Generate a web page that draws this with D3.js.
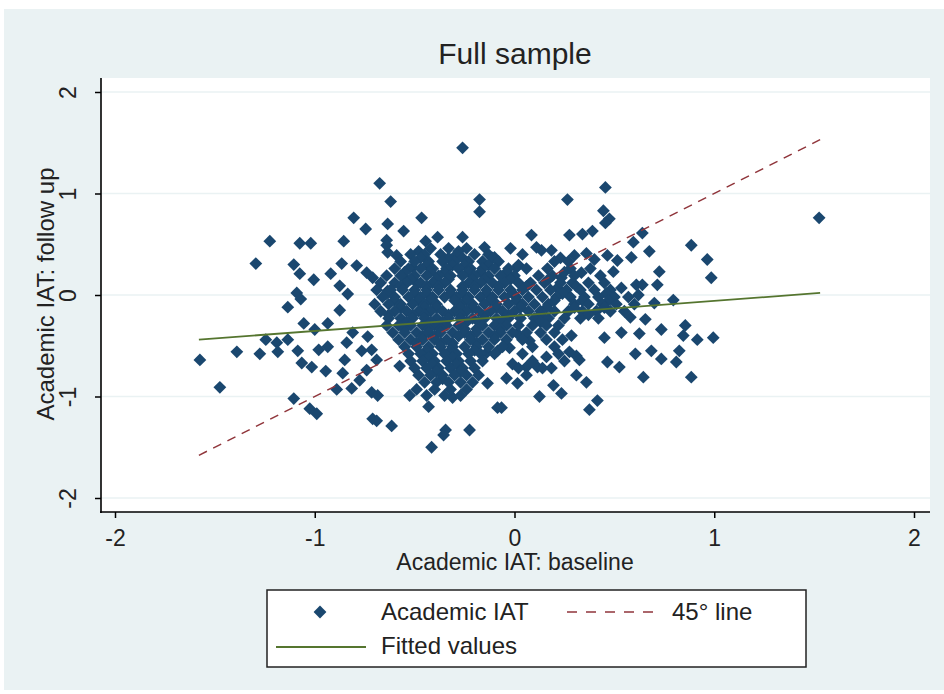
<!DOCTYPE html>
<html>
<head>
<meta charset="utf-8">
<script src="https://cdn.jsdelivr.net/npm/d3@7"></script>
<style>
body{margin:0;background:#fff}
text{font-family:"Liberation Sans",Arial,sans-serif;fill:#222}
</style>
</head>
<body>
<svg id="chart" width="944" height="694"></svg>
<script>
// scattered points around the cloud, [baseline, follow up]
var outerPoints = [
 [-0.26,1.45],[-0.675,1.10],[-0.62,0.92],[-0.175,0.94],[-0.175,0.82],[-0.805,0.76],[-0.465,0.76],
 [-0.635,0.70],[-0.745,0.65],[-0.555,0.63],[-1.225,0.53],[-1.075,0.51],[-1.02,0.51],[-0.855,0.53],
 [-0.64,0.54],[-0.445,0.53],[-0.385,0.57],[-0.26,0.57],[-1.295,0.31],[-1.105,0.30],[-1.075,0.21],
 [-1.005,0.15],[-0.92,0.21],[-0.865,0.31],[-0.79,0.29],[-0.635,0.42],[-0.59,0.39],[-0.64,0.49],
 [-0.74,0.22],[-0.71,0.17],[-1.09,0.02],[-1.07,-0.04],[-1.135,-0.12],[-0.875,0.09],[-0.835,0.01],
 [-0.875,-0.15],[-0.55,0.17],[-0.485,0.11],[-0.51,0.27],[-0.635,0.04],
 [-1.575,-0.64],[-1.475,-0.91],[-1.39,-0.56],[-1.275,-0.58],[-1.245,-0.44],[-1.19,-0.47],[-1.185,-0.56],
 [-1.135,-0.44],[-1.055,-0.28],[-1.0,-0.34],[-0.935,-0.28],[-1.085,-0.55],[-1.065,-0.67],[-1.015,-0.71],
 [-0.945,-0.75],[-0.98,-0.54],[-0.935,-0.51],[-0.84,-0.47],[-0.85,-0.64],[-0.86,-0.77],[-0.89,-0.93],
 [-0.815,-0.92],[-0.775,-0.84],[-0.74,-0.74],[-0.765,-0.55],[-0.81,-0.37],[-0.735,-0.41],[-0.715,-0.54],
 [-0.69,-0.64],[-0.575,-0.70],[-0.715,-0.96],[-0.685,-0.99],[-1.105,-1.02],[-1.025,-1.12],[-0.99,-1.17],
 [-0.71,-1.22],[-0.69,-1.24],[-0.615,-1.29],[-0.415,-1.50],[-0.345,-1.33],[-0.355,-1.38],[-0.225,-1.33],
 [-0.43,-1.10],[-0.525,-0.99],[-0.31,-1.01],[-0.135,-0.87],[-0.085,-1.11],
 [1.525,0.76],[0.455,1.06],[0.265,0.94],[0.445,0.83],[0.475,0.75],[0.455,0.71],[0.885,0.49],
 [0.965,0.35],[0.985,0.17],[0.725,0.23],[0.715,0.10],[0.61,0.10],[0.64,0.10],[0.795,-0.05],
 [0.675,0.43],[0.585,0.37],[0.595,0.52],[0.64,0.61],[0.535,0.07],[0.515,0.34],[0.495,0.23],
 [0.465,0.39],[0.39,0.63],[0.34,0.60],[0.275,0.59],[0.085,0.59],[-0.02,0.46],[-0.15,0.47],
 [0.135,0.44],[0.185,0.44],[0.11,0.47],[0.165,0.26],[0.01,0.27],[0.30,0.39],[0.36,0.41],
 [0.40,0.35],[0.335,0.22],[0.235,0.17],[0.215,0.07],[0.075,0.11],[-0.06,0.17],[-0.10,0.37],
 [0.995,-0.42],[0.915,-0.44],[0.855,-0.30],[0.845,-0.40],[0.825,-0.55],[0.81,-0.66],[0.885,-0.81],
 [0.735,-0.34],[0.735,-0.63],[0.685,-0.55],[0.655,-0.24],[0.625,-0.38],[0.58,-0.22],[0.605,-0.58],
 [0.535,-0.37],[0.645,-0.81],[0.525,-0.71],[0.465,-0.66],[0.45,-0.42],[0.415,-1.04],[0.375,-1.13],
 [0.36,-0.86],[0.31,-0.79],[0.31,-0.60],[0.275,-0.56],[0.325,-0.64],[0.235,-0.97],[0.195,-0.89],
 [0.125,-1.00],[0.015,-0.87],[-0.065,-1.11],[-0.04,-0.82],[-0.01,-0.68],[0.06,-0.71],[0.115,-0.71],
 [0.16,-0.61],[0.185,-0.72],[-0.085,-0.55],[-0.025,-0.52],[0.015,-0.38],[0.075,-0.45],[0.285,-0.40],
 [-0.14,-0.57],[0.62,0.00],[0.70,-0.08]
];

// dense core, read row by row: [follow up, [baseline values]]
var coreRows = [
 [0.46, [-0.42,-0.33,-0.24]],
 [0.43, [-0.48,-0.28]],
 [0.40, [-0.52,-0.45,-0.37,-0.29,-0.20,-0.13,0.04]],
 [0.365,[-0.47,-0.33,-0.26,-0.11,0.23]],
 [0.33, [-0.57,-0.50,-0.43,-0.36,-0.30,-0.23,-0.16,-0.08,0.20,0.27]],
 [0.295,[-0.44,-0.31,-0.25,-0.13,0.02]],
 [0.26, [-0.60,-0.53,-0.47,-0.41,-0.34,-0.28,-0.22,-0.16,-0.10,-0.03,0.06,0.28,0.38]],
 [0.225,[-0.55,-0.42,-0.35,-0.23,-0.17,-0.04,0.25]],
 [0.19, [-0.64,-0.57,-0.50,-0.44,-0.38,-0.32,-0.26,-0.20,-0.13,-0.07,0.00,0.12,0.19,0.30,0.43]],
 [0.155,[-0.52,-0.39,-0.33,-0.21,-0.15,-0.02,0.17]],
 [0.12, [-0.67,-0.60,-0.54,-0.47,-0.41,-0.35,-0.23,-0.17,-0.11,-0.05,0.02,0.08,0.15,0.23,0.29,0.37,0.45]],
 [0.085,[-0.57,-0.44,-0.38,-0.26,-0.20,-0.08,0.06,0.31]],
 [0.05, [-0.69,-0.62,-0.56,-0.50,-0.44,-0.38,-0.32,-0.26,-0.20,-0.14,-0.08,-0.02,0.04,0.11,0.18,0.26,0.33,0.40,0.48]],
 [0.015,[-0.64,-0.50,-0.44,-0.32,-0.26,-0.14,-0.01,0.24,0.46]],
 [-0.02,[-0.66,-0.60,-0.53,-0.47,-0.41,-0.35,-0.29,-0.23,-0.17,-0.11,-0.05,0.01,0.07,0.14,0.21,0.28,0.35,0.42,0.50,0.57]],
 [-0.055,[-0.60,-0.48,-0.42,-0.30,-0.24,-0.12,0.01,0.20,0.34,0.47]],
 [-0.09,[-0.70,-0.63,-0.57,-0.51,-0.45,-0.39,-0.27,-0.21,-0.15,-0.09,-0.03,0.04,0.10,0.17,0.30,0.37,0.44,0.51,0.60]],
 [-0.125,[-0.57,-0.45,-0.39,-0.27,-0.21,-0.09,0.03,0.16,0.30,0.45]],
 [-0.16,[-0.67,-0.60,-0.54,-0.48,-0.42,-0.36,-0.30,-0.24,-0.18,-0.12,-0.06,0.00,0.07,0.13,0.20,0.27,0.34,0.41,0.48,0.55]],
 [-0.195,[-0.63,-0.51,-0.45,-0.33,-0.27,-0.15,-0.03,0.13,0.37]],
 [-0.23,[-0.63,-0.57,-0.51,-0.45,-0.39,-0.33,-0.27,-0.21,-0.15,-0.09,-0.03,0.03,0.10,0.17,0.25,0.33,0.42]],
 [-0.265,[-0.54,-0.42,-0.36,-0.24,-0.18,-0.06,0.13]],
 [-0.30,[-0.64,-0.58,-0.52,-0.46,-0.40,-0.34,-0.28,-0.16,-0.10,-0.04,0.02,0.09,0.16,0.22]],
 [-0.335,[-0.55,-0.43,-0.37,-0.25,-0.19,-0.07]],
 [-0.37,[-0.61,-0.55,-0.49,-0.43,-0.37,-0.31,-0.25,-0.19,-0.13,-0.07,-0.01,0.06,0.13,0.20]],
 [-0.405,[-0.46,-0.40,-0.28,-0.22,-0.10]],
 [-0.44,[-0.58,-0.52,-0.46,-0.40,-0.34,-0.22,-0.16,-0.10,-0.04,0.04,0.16,0.24]],
 [-0.475,[-0.49,-0.37,-0.31,-0.19]],
 [-0.51,[-0.55,-0.49,-0.43,-0.37,-0.31,-0.25,-0.19,-0.13,-0.06,0.09,0.20]],
 [-0.545,[-0.44,-0.32,-0.20]],
 [-0.58,[-0.53,-0.47,-0.41,-0.35,-0.29,-0.23,-0.17,-0.10,0.04,0.22]],
 [-0.615,[-0.43,-0.31]],
 [-0.65,[-0.52,-0.46,-0.40,-0.34,-0.28,-0.22,-0.16,0.09,0.25]],
 [-0.685,[-0.41,-0.29]],
 [-0.72,[-0.50,-0.44,-0.38,-0.32,-0.26,-0.20,0.02,0.14]],
 [-0.755,[-0.39,-0.27]],
 [-0.79,[-0.48,-0.42,-0.36,-0.30,-0.24,-0.18,0.06]],
 [-0.825,[-0.36]],
 [-0.86,[-0.45,-0.39,-0.33,-0.27,-0.21]],
 [-0.93,[-0.49,-0.40,-0.32,-0.24]],
 [-0.99,[-0.44,-0.35,-0.27]]
];

var tickVals = [-2,-1,0,1,2];
var lineX = [-1.58, 1.53];   // 45 degree line ends
var lineY = [-1.58, 1.53];
var fitY  = [-0.44, 0.02];   // fitted values at the same ends

var points = outerPoints.slice();
coreRows.forEach(function(r){
  r[1].forEach(function(v){ points.push([v, r[0]]); });
});

var navy = "#1a476f", maroon = "#90353b", green = "#55752f", bg = "#eaf2f3";
var svg = d3.select("#chart");

svg.append("rect").attr("x",4).attr("y",9).attr("width",940).attr("height",681).attr("fill",bg);

var pLeft = 101, pRight = 930, pTop = 78, pBottom = 512;
svg.append("rect").attr("x",pLeft).attr("y",pTop).attr("width",pRight-pLeft).attr("height",pBottom-pTop).attr("fill","#fff");

var x = d3.scaleLinear().domain([-2,2]).range([115,914]);
var y = d3.scaleLinear().domain([-2,2]).range([498,92]);

// grid
svg.append("g").selectAll("line").data(tickVals).enter().append("line")
  .attr("x1",pLeft).attr("x2",pRight)
  .attr("y1",function(d){return y(d);}).attr("y2",function(d){return y(d);})
  .attr("stroke",bg).attr("stroke-width",1.5);

// axes
var fmt = function(d){ return String(d); };
var yAxis = svg.append("g").attr("transform","translate("+pLeft+",0)")
  .call(d3.axisLeft(y).tickValues(tickVals).tickSize(6).tickFormat(fmt));
var xAxis = svg.append("g").attr("transform","translate(0,"+pBottom+")")
  .call(d3.axisBottom(x).tickValues(tickVals).tickSize(6).tickFormat(fmt));
[yAxis,xAxis].forEach(function(a){
  a.select(".domain").remove();
  a.selectAll(".tick line").attr("stroke","#000").attr("stroke-width",1.5);
  a.selectAll(".tick text").attr("font-size",23).attr("fill","#222")
   .style("font-family","'Liberation Sans',Arial,sans-serif");
});
yAxis.selectAll(".tick text")
  .attr("x",null).attr("dy",null).attr("text-anchor","middle")
  .attr("dominant-baseline","central")
  .attr("transform","translate(-33,0) rotate(-90)");
xAxis.selectAll(".tick text")
  .attr("dy",null).attr("y",26).attr("dominant-baseline","central");

svg.append("line").attr("x1",pLeft).attr("x2",pLeft).attr("y1",pTop).attr("y2",pBottom+1)
  .attr("stroke","#000").attr("stroke-width",1.6);
svg.append("line").attr("x1",pLeft-1).attr("x2",pRight).attr("y1",pBottom).attr("y2",pBottom)
  .attr("stroke","#000").attr("stroke-width",1.6);

// markers
var diamond = d3.symbol().type(d3.symbolSquare).size(82);
svg.append("g").selectAll("path").data(points).enter().append("path")
  .attr("d",diamond)
  .attr("transform",function(d){return "translate("+x(d[0])+","+y(d[1])+") rotate(45)";})
  .attr("fill",navy);

// lines
var line = d3.line().x(function(d){return x(d[0]);}).y(function(d){return y(d[1]);});
svg.append("path").datum(d3.zip(lineX,lineY)).attr("d",line)
  .attr("fill","none").attr("stroke",maroon).attr("stroke-width",1.5).attr("stroke-dasharray","9,7");
svg.append("path").datum(d3.zip(lineX,fitY)).attr("d",line)
  .attr("fill","none").attr("stroke",green).attr("stroke-width",1.8);

// titles
svg.append("text").attr("x",515).attr("y",53).attr("text-anchor","middle")
  .attr("dominant-baseline","central").attr("font-size",30).text("Full sample");
svg.append("text").attr("x",515).attr("y",562).attr("text-anchor","middle")
  .attr("dominant-baseline","central").attr("font-size",23).text("Academic IAT: baseline");
svg.append("text").attr("transform","translate(45,294) rotate(-90)").attr("text-anchor","middle")
  .attr("dominant-baseline","central").attr("font-size",24).text("Academic IAT: follow up");

// legend
var lg = svg.append("g");
lg.append("rect").attr("x",267).attr("y",590).attr("width",539).attr("height",77)
  .attr("fill","#fff").attr("stroke","#222").attr("stroke-width",1.5);
lg.append("path").attr("d",diamond).attr("transform","translate(320,612) rotate(45)").attr("fill",navy);
lg.append("text").attr("x",381).attr("y",611).attr("dominant-baseline","central").attr("font-size",24).text("Academic IAT");
lg.append("line").attr("x1",567).attr("x2",657).attr("y1",612).attr("y2",612)
  .attr("stroke",maroon).attr("stroke-width",1.5).attr("stroke-dasharray","10,9");
lg.append("text").attr("x",672).attr("y",611).attr("dominant-baseline","central").attr("font-size",24).text("45° line");
lg.append("line").attr("x1",276).attr("x2",366).attr("y1",647).attr("y2",647)
  .attr("stroke",green).attr("stroke-width",1.8);
lg.append("text").attr("x",381).attr("y",645).attr("dominant-baseline","central").attr("font-size",24).text("Fitted values");
</script>
</body>
</html>
